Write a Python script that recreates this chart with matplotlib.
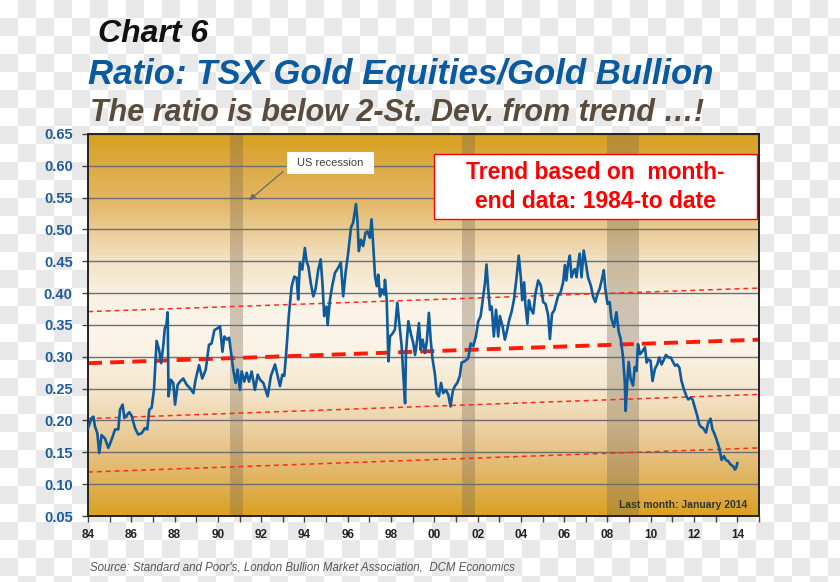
import matplotlib
matplotlib.use('Agg')
import matplotlib.pyplot as plt
import numpy as np
from matplotlib.colors import LinearSegmentedColormap
from matplotlib.patches import Rectangle
from matplotlib.ticker import MultipleLocator, FuncFormatter

plt.rcParams['font.family'] = ['Liberation Sans', 'DejaVu Sans']

# month-end ratio (decimal year, value)
years = [
    1984.00, 1984.17, 1984.25, 1984.32, 1984.43, 1984.52, 1984.63, 1984.78, 1984.94,
    1985.09, 1985.25, 1985.40, 1985.48, 1985.60, 1985.68, 1985.78, 1985.91, 1986.02,
    1986.17, 1986.32, 1986.48, 1986.63, 1986.74, 1986.83, 1986.94, 1987.05, 1987.17,
    1987.29, 1987.38, 1987.47, 1987.55, 1987.62, 1987.68, 1987.72, 1987.83, 1987.94,
    1988.02, 1988.14, 1988.25, 1988.40, 1988.56, 1988.71, 1988.87, 1988.97, 1989.13,
    1989.28, 1989.44, 1989.59, 1989.71, 1989.84, 1989.99, 1990.10, 1990.21, 1990.30,
    1990.41, 1990.52, 1990.64, 1990.71, 1990.82, 1990.91, 1991.02, 1991.10, 1991.22,
    1991.33, 1991.44, 1991.56, 1991.71, 1991.84, 1991.95, 1992.10, 1992.30, 1992.45,
    1992.64, 1992.76, 1992.87, 1992.98, 1993.07, 1993.18, 1993.28, 1993.41, 1993.53,
    1993.64, 1993.71, 1993.79, 1993.90, 1994.02, 1994.10, 1994.18, 1994.30, 1994.41,
    1994.51, 1994.64, 1994.75, 1994.84, 1994.91, 1995.02, 1995.07, 1995.18, 1995.28,
    1995.41, 1995.56, 1995.68, 1995.79, 1995.90, 1996.02, 1996.15, 1996.25, 1996.38,
    1996.45, 1996.51, 1996.61, 1996.71, 1996.82, 1996.91, 1997.02, 1997.10, 1997.18,
    1997.26, 1997.34, 1997.41, 1997.49, 1997.57, 1997.68, 1997.72, 1997.80, 1997.88,
    1997.95, 1998.08, 1998.18, 1998.29, 1998.38, 1998.49, 1998.57, 1998.65, 1998.69,
    1998.80, 1998.91, 1999.03, 1999.11, 1999.18, 1999.29, 1999.37, 1999.46, 1999.57,
    1999.65, 1999.75, 1999.83, 1999.92, 2000.03, 2000.11, 2000.21, 2000.31, 2000.41,
    2000.54, 2000.65, 2000.75, 2000.85, 2000.95, 2001.06, 2001.18, 2001.26, 2001.41,
    2001.57, 2001.68, 2001.80, 2001.92, 2002.03, 2002.14, 2002.26, 2002.34, 2002.41,
    2002.49, 2002.57, 2002.65, 2002.75, 2002.85, 2002.95, 2003.03, 2003.15, 2003.26,
    2003.37, 2003.46, 2003.57, 2003.68, 2003.80, 2003.90, 2004.00, 2004.06, 2004.15,
    2004.21, 2004.30, 2004.37, 2004.46, 2004.57, 2004.67, 2004.80, 2004.92, 2005.03,
    2005.14, 2005.26, 2005.34, 2005.44, 2005.54, 2005.64, 2005.72, 2005.84, 2005.95,
    2006.03, 2006.10, 2006.18, 2006.26, 2006.34, 2006.41, 2006.49, 2006.57, 2006.64,
    2006.72, 2006.80, 2006.90, 2006.99, 2007.10, 2007.23, 2007.34, 2007.44, 2007.54,
    2007.64, 2007.75, 2007.83, 2007.90, 2008.00, 2008.10, 2008.18, 2008.30, 2008.41,
    2008.52, 2008.61, 2008.72, 2008.80, 2008.84, 2008.92, 2008.98, 2009.07, 2009.18,
    2009.26, 2009.34, 2009.41, 2009.50, 2009.62, 2009.73, 2009.81, 2009.88, 2009.99,
    2010.08, 2010.19, 2010.30, 2010.39, 2010.50, 2010.61, 2010.70, 2010.81, 2010.92,
    2011.04, 2011.12, 2011.22, 2011.32, 2011.42, 2011.53, 2011.65, 2011.73, 2011.84,
    2011.93, 2012.04, 2012.15, 2012.24, 2012.32, 2012.42, 2012.55, 2012.65, 2012.76,
    2012.85, 2012.92, 2013.04, 2013.16, 2013.27, 2013.38, 2013.47, 2013.58, 2013.68,
    2013.81, 2013.88, 2013.94, 2014.00,
]
ratio = [
    0.188, 0.204, 0.206, 0.191, 0.180, 0.149, 0.177, 0.172, 0.157,
    0.170, 0.186, 0.186, 0.217, 0.225, 0.204, 0.208, 0.213, 0.207,
    0.188, 0.178, 0.180, 0.188, 0.186, 0.217, 0.220, 0.249, 0.325,
    0.310, 0.290, 0.315, 0.345, 0.350, 0.370, 0.238, 0.264, 0.259,
    0.225, 0.256, 0.261, 0.266, 0.256, 0.251, 0.243, 0.264, 0.287,
    0.266, 0.280, 0.319, 0.321, 0.342, 0.345, 0.348, 0.308, 0.332,
    0.327, 0.330, 0.298, 0.280, 0.259, 0.280, 0.248, 0.277, 0.261,
    0.275, 0.261, 0.277, 0.248, 0.272, 0.264, 0.259, 0.238, 0.270,
    0.288, 0.270, 0.254, 0.272, 0.270, 0.317, 0.366, 0.411, 0.426,
    0.424, 0.390, 0.448, 0.437, 0.471, 0.450, 0.442, 0.414, 0.395,
    0.406, 0.437, 0.453, 0.411, 0.364, 0.379, 0.350, 0.390, 0.411,
    0.432, 0.440, 0.448, 0.395, 0.432, 0.463, 0.503, 0.511, 0.540,
    0.513, 0.466, 0.484, 0.474, 0.495, 0.497, 0.487, 0.516, 0.474,
    0.427, 0.411, 0.429, 0.395, 0.406, 0.398, 0.421, 0.390, 0.293,
    0.332, 0.337, 0.343, 0.385, 0.353, 0.317, 0.269, 0.227, 0.306,
    0.356, 0.337, 0.321, 0.303, 0.319, 0.353, 0.311, 0.327, 0.306,
    0.324, 0.369, 0.327, 0.296, 0.272, 0.243, 0.238, 0.259, 0.243,
    0.248, 0.240, 0.222, 0.246, 0.254, 0.259, 0.270, 0.291, 0.293,
    0.298, 0.321, 0.317, 0.332, 0.356, 0.364, 0.395, 0.416, 0.445,
    0.406, 0.374, 0.379, 0.332, 0.374, 0.332, 0.364, 0.348, 0.327,
    0.343, 0.358, 0.371, 0.390, 0.425, 0.459, 0.423, 0.389, 0.417,
    0.381, 0.352, 0.389, 0.375, 0.368, 0.399, 0.420, 0.412, 0.386,
    0.383, 0.365, 0.328, 0.368, 0.373, 0.386, 0.396, 0.402, 0.417,
    0.444, 0.420, 0.446, 0.459, 0.425, 0.433, 0.438, 0.425, 0.446,
    0.462, 0.425, 0.467, 0.449, 0.425, 0.412, 0.394, 0.386, 0.399,
    0.407, 0.423, 0.436, 0.407, 0.383, 0.386, 0.360, 0.347, 0.370,
    0.339, 0.328, 0.299, 0.260, 0.215, 0.265, 0.292, 0.265, 0.255,
    0.284, 0.278, 0.320, 0.304, 0.309, 0.315, 0.291, 0.296, 0.294,
    0.262, 0.281, 0.288, 0.299, 0.288, 0.296, 0.303, 0.299, 0.299,
    0.291, 0.286, 0.288, 0.283, 0.262, 0.249, 0.238, 0.233, 0.236,
    0.233, 0.220, 0.207, 0.194, 0.190, 0.188, 0.181, 0.196, 0.203,
    0.186, 0.181, 0.170, 0.157, 0.138, 0.144, 0.138, 0.136, 0.131,
    0.128, 0.123, 0.125, 0.133,
]

# trend and standard-deviation bands (values at the two ends)
trend_x = [1984, 2015]
trend_mid = [0.290, 0.327]
trend_up = [0.371, 0.408]
trend_lo1 = [0.203, 0.241]
trend_lo2 = [0.119, 0.157]

# US recessions
recessions = [(1990.55, 1991.17), (2001.3, 2001.9), (2007.96, 2009.46)]

W, H = 840, 582
fig = plt.figure(figsize=(W / 100, H / 100), dpi=100)

# checkered backdrop
ii, jj = np.indices((H, W))
chk = ((ii // 18 + jj // 18) % 2).astype(float)
bg = np.where(chk[..., None] > 0, 0.91, 1.0) * np.ones((H, W, 3))
fig.figimage(bg, xo=0, yo=0, zorder=-10)

ax = fig.add_axes([88 / W, 1 - 516 / H, 671 / W, 382 / H])
ax.patch.set_visible(False)

# golden gradient behind the plot
cmap = LinearSegmentedColormap.from_list('gold', [
    (0.00, '#d9a21f'), (0.08, '#dfb055'), (0.17, '#e7c386'), (0.25, '#eed5aa'),
    (0.33, '#f5e6cd'), (0.42, '#faf2e4'), (0.50, '#fbf5ea'), (0.58, '#f9f1e2'),
    (0.67, '#f3e2c4'), (0.75, '#ebcb95'), (0.83, '#e2b762'), (0.92, '#dcaa45'),
    (1.00, '#d8a120'),
])
grad = np.linspace(0, 1, 256).reshape(-1, 1)
ax.imshow(grad, cmap=cmap, origin='lower', aspect='auto',
          extent=[1984, 2015, 0.05, 0.65], zorder=0)

for a, b in recessions:
    ax.axvspan(a, b, color='#7d6a50', alpha=0.35, lw=0, zorder=0.3)

ax.set_axisbelow(True)
ax.yaxis.grid(True, color='#6e6e6e', lw=1.0, zorder=0.5)

ax.plot(trend_x, trend_up, color='#ff2a1a', lw=1.1, dashes=(3.2, 2.6), zorder=2)
ax.plot(trend_x, trend_lo1, color='#ff2a1a', lw=1.1, dashes=(3.2, 2.6), zorder=2)
ax.plot(trend_x, trend_lo2, color='#ff2a1a', lw=1.1, dashes=(3.2, 2.6), zorder=2)
ax.plot(trend_x, trend_mid, color='#ff1a0a', lw=2.8, dashes=(3.6, 2.1), zorder=2)

ax.plot(years, ratio, color='#0d5a9c', lw=1.9, zorder=3)

ax.set_xlim(1984, 2015)
ax.set_ylim(0.05, 0.65)
ax.xaxis.set_major_locator(MultipleLocator(1))
ax.xaxis.set_major_formatter(FuncFormatter(
    lambda v, p: f"{int(round(v)) % 100:02d}" if int(round(v)) % 2 == 0 and v < 2014.5 else ''))
ax.yaxis.set_major_locator(MultipleLocator(0.05))
ax.yaxis.set_major_formatter(FuncFormatter(lambda v, p: f"{v:.2f}"))
ax.tick_params(axis='x', length=4, width=1, color='#444444', pad=5,
               labelsize=8.5, labelcolor='#222222')
ax.tick_params(axis='y', length=4, width=1, color='#444444', pad=7,
               labelsize=10.5, labelcolor='#1c5c9e')
for lab in ax.get_xticklabels() + ax.get_yticklabels():
    lab.set_fontweight('bold')
for s in ax.spines.values():
    s.set_color('#222222')
    s.set_linewidth(1.4)

# annotation boxes
ax.add_patch(Rectangle((0.2966, 0.8953), 0.1296, 0.0576, transform=ax.transAxes,
                       facecolor='white', edgecolor='none', zorder=4))
ax.text(0.3614, 0.924, 'US recession', transform=ax.transAxes, ha='center', va='center',
        fontsize=8, color='#404040', zorder=5)
ax.annotate('', xy=(0.2370, 0.822), xytext=(0.2936, 0.906), xycoords='axes fraction',
            arrowprops=dict(arrowstyle='-|>', color='#6a6a6a', lw=0.9, mutation_scale=9),
            zorder=5)

ax.add_patch(Rectangle((0.5156, 0.7775), 0.4814, 0.1701, transform=ax.transAxes,
                       facecolor='white', edgecolor='#ff0000', lw=1.0, zorder=4))
ax.text(0.7563, 0.898, 'Trend based on  month-', transform=ax.transAxes, ha='center',
        va='center', fontsize=16.5, fontweight='bold', color='#ff0000', zorder=5)
ax.text(0.7563, 0.822, 'end data: 1984-to date', transform=ax.transAxes, ha='center',
        va='center', fontsize=16.5, fontweight='bold', color='#ff0000', zorder=5)

ax.text(0.982, 0.029, 'Last month: January 2014', transform=ax.transAxes, ha='right',
        va='center', fontsize=7.5, fontweight='bold', color='#333333', zorder=5)

# titles
fig.text(98 / W, 1 - 42 / H, 'Chart 6', fontsize=23, fontweight='bold', fontstyle='italic',
         color='#111111', va='baseline')
fig.text(88 / W, 1 - 84 / H, 'Ratio: TSX Gold Equities/Gold Bullion', fontsize=25,
         fontweight='bold', fontstyle='italic', color='#0a5aa0', va='baseline')
fig.text(90 / W, 1 - 121 / H, 'The ratio is below 2-St. Dev. from trend \u2026!', fontsize=22,
         fontweight='bold', fontstyle='italic', color='#5a4b3c', va='baseline')

fig.text(90 / W, 1 - 568 / H,
         "Source: Standard and Poor's, London Bullion Market Association,  DCM Economics",
         fontsize=8.3, fontstyle='italic', color='#555555', va='center')

fig.savefig('out.png', dpi=100)
